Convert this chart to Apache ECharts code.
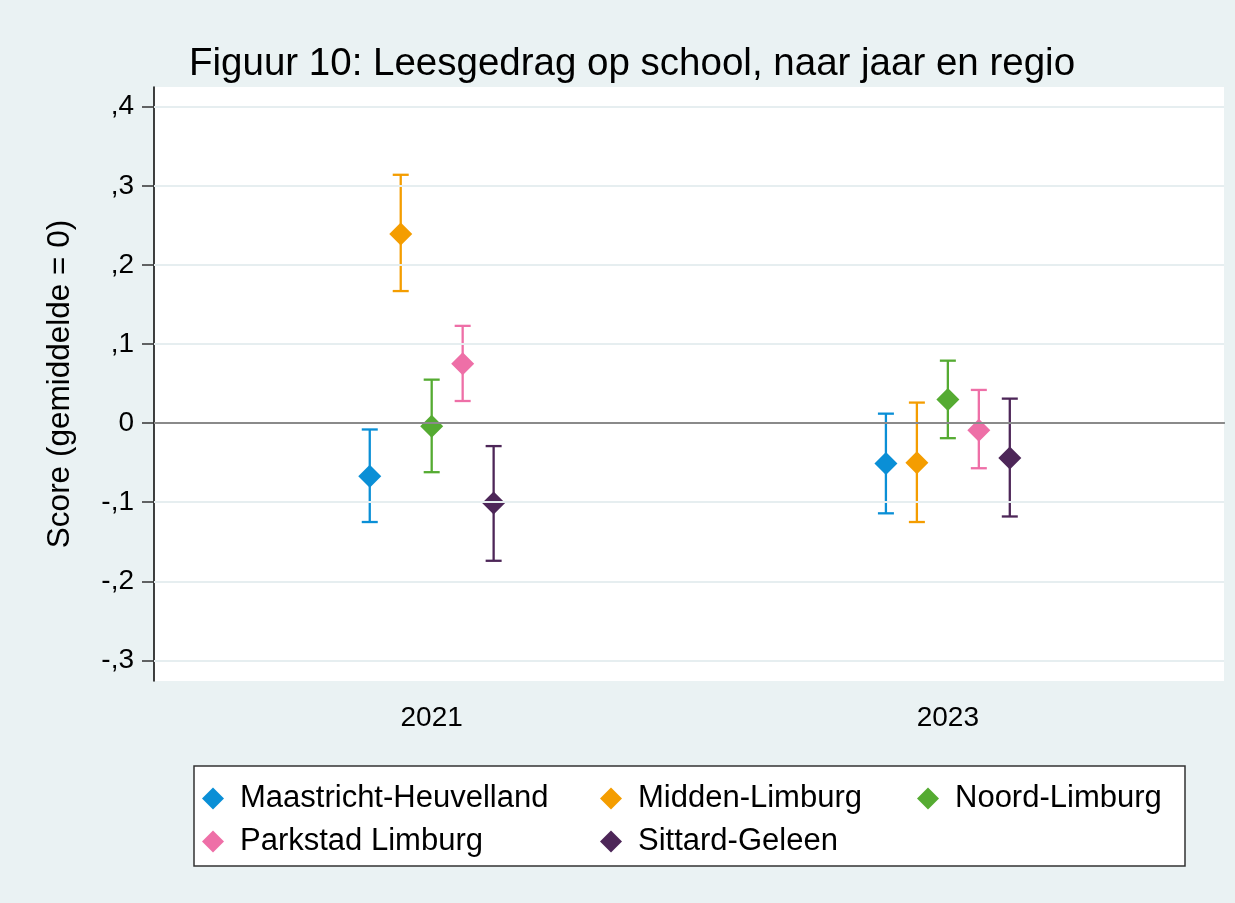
<!DOCTYPE html>
<html>
<head>
<meta charset="utf-8">
<script src="https://cdn.jsdelivr.net/npm/echarts@6/dist/echarts.min.js"></script>
<style>
html,body{margin:0;padding:0;background:#eaf2f3;}
#chart{width:1235px;height:903px;}
</style>
</head>
<body>
<div id="chart"></div>
<script>
const years = [2021, 2023];
const regions = ['Maastricht-Heuvelland', 'Midden-Limburg', 'Noord-Limburg', 'Parkstad Limburg', 'Sittard-Geleen'];
const colors = ['#0a8fd6', '#f49d00', '#55ab32', '#ee6fa7', '#4d2658'];
// values per region, for 2021 then 2023
const mean2021 = [-0.067, 0.239, -0.004, 0.075, -0.101];
const low2021  = [-0.125, 0.167, -0.062, 0.028, -0.174];
const high2021 = [-0.008, 0.314, 0.055, 0.123, -0.029];
const mean2023 = [-0.051, -0.050, 0.030, -0.009, -0.044];
const low2023  = [-0.114, -0.125, -0.019, -0.057, -0.118];
const high2023 = [0.012, 0.026, 0.079, 0.042, 0.031];
const yTickValues = [-0.3, -0.2, -0.1, 0, 0.1, 0.2, 0.3, 0.4];
const yTickLabels = ['-,3', '-,2', '-,1', '0', ',1', ',2', ',3', ',4'];
const xTickLabels = ['2021', '2023'];

const spacing = 0.12;
const FONT = '"Liberation Sans", Arial, sans-serif';
const means = [mean2021, mean2023], lows = [low2021, low2023], highs = [high2021, high2023];

const series = [];
regions.forEach((r, i) => {
  const bars = years.map((yr, k) => [yr + (i - 2) * spacing, lows[k][i], highs[k][i]]);
  series.push({
    name: r + ' CI',
    type: 'custom',
    data: bars,
    z: 3,
    renderItem: function (params, api) {
      const x = api.value(0);
      const pl = api.coord([x, api.value(1)]);
      const ph = api.coord([x, api.value(2)]);
      const cw = 8;
      const st = { stroke: colors[i], lineWidth: 2.3 };
      return {
        type: 'group',
        children: [
          { type: 'line', shape: { x1: pl[0], y1: pl[1], x2: ph[0], y2: ph[1] }, style: st },
          { type: 'line', shape: { x1: pl[0] - cw, y1: pl[1], x2: pl[0] + cw, y2: pl[1] }, style: st },
          { type: 'line', shape: { x1: ph[0] - cw, y1: ph[1], x2: ph[0] + cw, y2: ph[1] }, style: st }
        ]
      };
    }
  });
});
regions.forEach((r, i) => {
  const pts = years.map((yr, k) => [yr + (i - 2) * spacing, means[k][i]]);
  series.push({
    name: r,
    type: 'scatter',
    symbol: 'diamond',
    symbolSize: 23,
    itemStyle: { color: colors[i], opacity: 1 },
    data: pts,
    z: 4
  });
});
// grid lines + zero line
series.push({
  name: 'lines',
  type: 'line',
  data: [],
  markLine: {
    silent: true,
    symbol: 'none',
    label: { show: false },
    data: yTickValues.map(v => ({
      yAxis: v,
      lineStyle: v === 0 ? { color: '#8a8a8a', width: 2, type: 'solid' } : { color: '#e6eef0', width: 2, type: 'solid' }
    }))
  },
  z: 2
});

const legendPos = [
  { left: 202, top: 783 },
  { left: 600, top: 783 },
  { left: 917, top: 783 },
  { left: 202, top: 826 },
  { left: 600, top: 826 }
];
const legends = regions.map((r, i) => ({
  data: [r],
  left: legendPos[i].left,
  top: legendPos[i].top,
  padding: 0,
  icon: 'diamond',
  itemWidth: 22,
  itemHeight: 22,
  selectedMode: false,
  textStyle: { fontFamily: FONT, fontSize: 31, color: '#000', padding: [0, 0, 0, 11] }
}));

const chart = echarts.init(document.getElementById('chart'), null, { renderer: 'canvas' });
chart.setOption({
  animation: false,
  backgroundColor: '#eaf2f3',
  color: colors,
  title: {
    text: 'Figuur 10: Leesgedrag op school, naar jaar en regio',
    left: 184,
    top: 40,
    textStyle: { fontFamily: FONT, fontSize: 38.5, fontWeight: 'normal', color: '#000' }
  },
  graphic: [{
    type: 'rect',
    shape: { x: 194, y: 766, width: 991, height: 100 },
    style: { fill: '#fff', stroke: '#333', lineWidth: 1.5 },
    z: 1
  }],
  legend: legends,
  grid: { left: 154, right: 11, top: 87, bottom: 222, show: true, backgroundColor: '#fff', borderWidth: 0 },
  xAxis: {
    type: 'value',
    min: 2019.924,
    max: 2024.07,
    splitLine: { show: false },
    axisLine: { lineStyle: { color: '#000', width: 1.5 } },
    axisTick: { length: 9, lineStyle: { color: '#333', width: 1.5 }, customValues: years },
    axisLabel: {
      customValues: years,
      margin: 23,
      fontFamily: FONT, fontSize: 28, color: '#000',
      formatter: v => xTickLabels[years.indexOf(Math.round(v))] || ''
    }
  },
  yAxis: {
    type: 'value',
    min: -0.326,
    max: 0.425,
    name: 'Score (gemiddelde = 0)',
    nameLocation: 'middle',
    nameGap: 78,
    nameTextStyle: { fontFamily: FONT, fontSize: 31.5, color: '#000' },
    splitLine: { show: false },
    axisLine: { show: true, lineStyle: { color: '#000', width: 1.5 } },
    axisTick: { show: true, length: 12, lineStyle: { color: '#333', width: 1.5 }, customValues: yTickValues },
    axisLabel: {
      customValues: yTickValues,
      margin: 20,
      fontFamily: FONT, fontSize: 28, color: '#000',
      formatter: v => {
        const idx = yTickValues.findIndex(t => Math.abs(t - v) < 1e-6);
        return idx >= 0 ? yTickLabels[idx] : '';
      }
    }
  },
  series: series
});
</script>
</body>
</html>
